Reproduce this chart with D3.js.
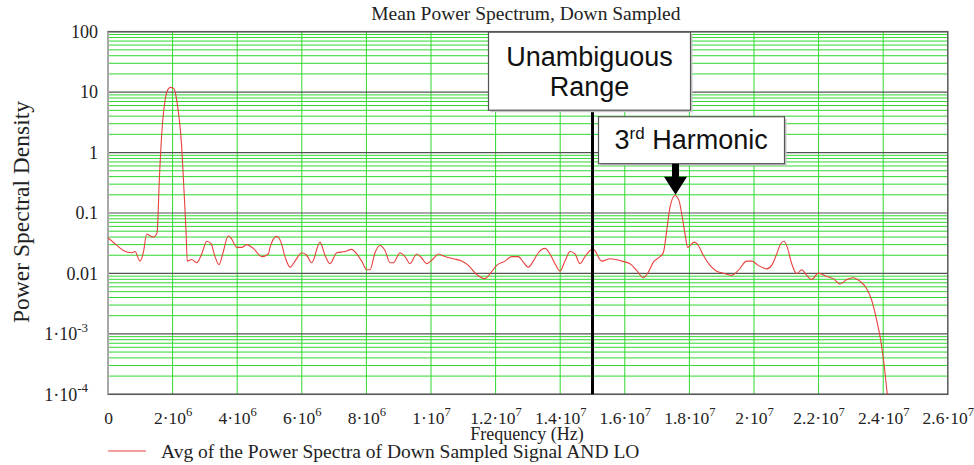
<!DOCTYPE html>
<html>
<head>
<meta charset="utf-8">
<script src="https://cdn.jsdelivr.net/npm/d3@7"></script>
<style>
body { margin: 0; background: #fff; }
#chart_root svg { display: block; }
</style>
</head>
<body>
<div id="chart_root"></div>
<script>
// spectrum: frequency in MHz, PSD (linear units)
const freqMHz = [
    0, 0.217, 0.474, 0.734, 0.836, 0.991, 1.093, 1.198, 1.300, 1.402, 1.508, 1.526,
    1.588, 1.663, 1.765, 1.867, 1.941, 2.043, 2.145, 2.282, 2.353, 2.415, 2.455,
    2.591, 2.746, 2.901, 3.056, 3.189, 3.313, 3.437, 3.551, 3.724, 3.830, 3.985,
    4.139, 4.294, 4.499, 4.759, 4.963, 5.016, 5.223, 5.356, 5.480, 5.635, 5.790,
    5.997, 6.152, 6.307, 6.564, 6.718, 6.873, 7.081, 7.338, 7.545, 7.700, 7.855,
    8.010, 8.112, 8.266, 8.421, 8.576, 8.731, 8.833, 9.040, 9.195, 9.350, 9.557,
    9.712, 9.867, 10.071, 10.226, 10.434, 10.690, 10.951, 11.155, 11.415, 11.672,
    11.827, 12.034, 12.291, 12.499, 12.703, 12.858, 13.012, 13.167, 13.322, 13.530,
    13.684, 13.839, 13.994, 14.149, 14.304, 14.458, 14.613, 14.768, 14.923, 15.025,
    15.285, 15.542, 15.904, 16.161, 16.369, 16.573, 16.728, 16.883, 17.090, 17.192,
    17.297, 17.400, 17.554, 17.678, 17.780, 17.864, 17.948, 18.019, 18.152, 18.276,
    18.430, 18.638, 18.845, 19.050, 19.310, 19.514, 19.774, 19.929, 20.133, 20.288,
    20.393, 20.548, 20.703, 20.827, 20.929, 21.031, 21.168, 21.322, 21.477, 21.632,
    21.787, 21.991, 22.251, 22.455, 22.663, 22.870, 23.075, 23.282, 23.490, 23.644,
    23.799, 23.923, 24.025, 24.127, 24.200
];
const psd = [
    0.039, 0.031, 0.024, 0.022, 0.023, 0.016, 0.022, 0.045, 0.042, 0.040, 0.045, 0.051,
    0.344, 2.0, 7.2, 11.3, 12.0, 11.3, 6.4, 1.23, 0.236, 0.051, 0.016,
    0.017, 0.015, 0.021, 0.034, 0.031, 0.019, 0.014, 0.021, 0.042, 0.037, 0.027,
    0.027, 0.030, 0.026, 0.019, 0.021, 0.027, 0.041, 0.033, 0.019, 0.0127, 0.016,
    0.022, 0.020, 0.015, 0.033, 0.020, 0.0145, 0.022, 0.023, 0.025, 0.021, 0.016,
    0.0115, 0.0115, 0.022, 0.029, 0.024, 0.015, 0.015, 0.022, 0.019, 0.0145, 0.021,
    0.018, 0.0145, 0.0175, 0.021, 0.019, 0.0175, 0.016, 0.0136, 0.0096, 0.0082,
    0.0099, 0.0136, 0.016, 0.019, 0.019, 0.0154, 0.0127, 0.016, 0.022, 0.026,
    0.021, 0.0145, 0.0109, 0.016, 0.023, 0.021, 0.0145, 0.019, 0.024, 0.025,
    0.016, 0.0175, 0.016, 0.0145, 0.0112, 0.0085, 0.0105, 0.0154, 0.019, 0.022,
    0.051, 0.125, 0.195, 0.16, 0.085, 0.045, 0.027, 0.029, 0.033, 0.029,
    0.020, 0.0136, 0.0109, 0.0101, 0.0093, 0.0112, 0.016, 0.016, 0.0136, 0.0124,
    0.0119, 0.0136, 0.021, 0.031, 0.034, 0.027, 0.0145, 0.0099, 0.0115, 0.0093,
    0.0079, 0.0101, 0.0089, 0.0082, 0.0067, 0.0079, 0.0085, 0.0074, 0.0056, 0.0036,
    0.00167, 0.00078, 0.00032, 0.0001, 0.00005
];

const xTickValues = [0, 2e6, 4e6, 6e6, 8e6, 1e7, 1.2e7, 1.4e7, 1.6e7, 1.8e7, 2e7, 2.2e7, 2.4e7, 2.6e7];
const xTickLabels = ["0", "2·10^6", "4·10^6", "6·10^6", "8·10^6", "1·10^7", "1.2·10^7",
    "1.4·10^7", "1.6·10^7", "1.8·10^7", "2·10^7", "2.2·10^7", "2.4·10^7", "2.6·10^7"];
const yTickValues = [100, 10, 1, 0.1, 0.01, 1e-3, 1e-4];
const yTickLabels = ["100", "10", "1", "0.1", "0.01", "1·10^-3", "1·10^-4"];

const unambiguousFreq = 1.5e7;
const harmonicFreq = 1.757e7;
const harmonicPeak = 0.2;

const W = 974, H = 465;
const margin = {top: 31.7, right: 26.2, bottom: 70.7, left: 108};
const width = W - margin.left - margin.right;
const height = H - margin.top - margin.bottom;
const serif = "'Liberation Serif', 'Times New Roman', serif";
const sans = "'Liberation Sans', Arial, sans-serif";

const data = freqMHz.map((f, i) => ({f: f * 1e6, v: psd[i]}));

const svg = d3.select("#chart_root")
    .append("svg")
    .attr("width", W)
    .attr("height", H)
    .style("background", "#fff");

const g = svg.append("g")
    .attr("transform", "translate(" + margin.left + "," + margin.top + ")");

const x = d3.scaleLinear().domain([0, 2.6e7]).range([0, width]);
const y = d3.scaleLog().domain([1e-4, 100]).range([height, 0]);

// writes "a·10^b" as text with a raised exponent
const writeLabel = (sel, lab, size) => {
    sel.text(null);
    const parts = lab.split("^");
    sel.append("tspan").text(parts[0]);
    if (parts.length > 1) {
        sel.append("tspan")
            .attr("font-size", size * 0.72)
            .attr("dy", -size * 0.45)
            .text(parts[1]);
    }
};

// grid
const minors = [];
for (let e = -4; e < 2; e++) {
    for (let k = 2; k <= 9; k++) minors.push(k * Math.pow(10, e));
}
g.append("g").selectAll("line")
    .data(minors)
    .enter().append("line")
    .attr("x1", 0).attr("x2", width)
    .attr("y1", d => y(d)).attr("y2", d => y(d))
    .attr("stroke", "#2fd82f")
    .attr("stroke-width", 1);
g.append("g").selectAll("line")
    .data(xTickValues.slice(1, -1))
    .enter().append("line")
    .attr("x1", d => x(d)).attr("x2", d => x(d))
    .attr("y1", 0).attr("y2", height)
    .attr("stroke", "#2fd82f")
    .attr("stroke-width", 1);
g.append("g").selectAll("line")
    .data(yTickValues)
    .enter().append("line")
    .attr("x1", 0).attr("x2", width)
    .attr("y1", d => y(d)).attr("y2", d => y(d))
    .attr("stroke", "#555")
    .attr("stroke-width", 1.2);

// frame
g.append("rect")
    .attr("width", width).attr("height", height)
    .attr("fill", "none")
    .attr("stroke", "#5a5a5a")
    .attr("stroke-width", 1.5);
g.append("line")
    .attr("x1", 0).attr("x2", 0).attr("y1", 0).attr("y2", height)
    .attr("stroke", "#a8a8a8").attr("stroke-width", 2);

// curve
svg.append("clipPath").attr("id", "plotclip")
    .append("rect").attr("width", width).attr("height", height);
g.append("path")
    .datum(data)
    .attr("clip-path", "url(#plotclip)")
    .attr("fill", "none")
    .attr("stroke", "#e8413c")
    .attr("stroke-width", 1.1)
    .attr("d", d3.line()
        .x(d => x(d.f))
        .y(d => y(d.v))
        .curve(d3.curveMonotoneX));

// axes
const xAx = g.append("g")
    .attr("transform", "translate(0," + height + ")")
    .call(d3.axisBottom(x).tickValues(xTickValues).tickSize(0).tickPadding(17));
xAx.select(".domain").remove();
xAx.attr("font-family", serif).attr("font-size", 17.5);
xAx.selectAll(".tick text").attr("fill", "#222")
    .each(function(d, i) { writeLabel(d3.select(this), xTickLabels[i], 17.5); });

const yAx = g.append("g")
    .call(d3.axisLeft(y).tickValues(yTickValues).tickSize(0).tickPadding(10));
yAx.select(".domain").remove();
yAx.attr("font-family", serif).attr("font-size", 18);
yAx.selectAll(".tick text").attr("fill", "#222")
    .each(function(d, i) {
        const lab = yTickLabels[i];
        writeLabel(d3.select(this), lab, 18);
        if (lab.includes("^")) d3.select(this).attr("x", -20);
    });

// titles
svg.append("text")
    .attr("x", margin.left + width / 2 - 2)
    .attr("y", 20)
    .attr("text-anchor", "middle")
    .attr("font-family", serif).attr("font-size", 19.5)
    .attr("fill", "#222")
    .text("Mean Power Spectrum, Down Sampled");

svg.append("text")
    .attr("x", margin.left + width / 2 - 1)
    .attr("y", 440)
    .attr("text-anchor", "middle")
    .attr("font-family", serif).attr("font-size", 18)
    .attr("fill", "#222")
    .text("Frequency (Hz)");

svg.append("text")
    .attr("transform", "translate(29,212) rotate(-90)")
    .attr("text-anchor", "middle")
    .attr("font-family", serif).attr("font-size", 23.5)
    .attr("fill", "#222")
    .text("Power Spectral Density");

// legend
svg.append("line")
    .attr("x1", 108).attr("x2", 146)
    .attr("y1", 451).attr("y2", 451)
    .attr("stroke", "#e8413c").attr("stroke-width", 1.1);
svg.append("text")
    .attr("x", 161).attr("y", 458)
    .attr("font-family", serif).attr("font-size", 19.5)
    .attr("fill", "#222")
    .text("Avg of the Power Spectra of Down Sampled Signal AND LO");

// annotations
const xu = x(unambiguousFreq);
const box1 = {x: xu - 104, y: 0.5, w: 202, h: 78};
const box2 = {x: xu + 6, y: 85, w: 186, h: 47};

g.append("line")
    .attr("x1", xu).attr("x2", xu)
    .attr("y1", box1.y + box1.h).attr("y2", height)
    .attr("stroke", "#000").attr("stroke-width", 3);

[box1, box2].forEach(b => {
    g.append("rect")
        .attr("x", b.x + 2).attr("y", b.y + 2)
        .attr("width", b.w).attr("height", b.h)
        .attr("fill", "#c8c8c8");
    g.append("rect")
        .attr("x", b.x).attr("y", b.y)
        .attr("width", b.w).attr("height", b.h)
        .attr("fill", "#fff")
        .attr("stroke", "#555").attr("stroke-width", 1.2);
});

const t1 = g.append("text")
    .attr("text-anchor", "middle")
    .attr("font-family", sans).attr("font-size", 27)
    .attr("fill", "#111");
t1.append("tspan").attr("x", box1.x + box1.w / 2).attr("y", box1.y + 34).text("Unambiguous");
t1.append("tspan").attr("x", box1.x + box1.w / 2).attr("y", box1.y + 64).text("Range");

const t2 = g.append("text")
    .attr("x", box2.x + 16).attr("y", box2.y + 32)
    .attr("font-family", sans).attr("font-size", 27)
    .attr("fill", "#111");
t2.append("tspan").text("3");
t2.append("tspan").attr("font-size", 17).attr("dy", -10).text("rd");
t2.append("tspan").attr("dy", 10).text(" Harmonic");

// arrow pointing at the harmonic peak
const ax = x(harmonicFreq), ay = y(harmonicPeak);
g.append("path")
    .attr("d", "M" + (ax - 3.5) + "," + (box2.y + box2.h) +
        " V" + (ay - 18) + " H" + (ax - 11.5) +
        " L" + ax + "," + ay +
        " L" + (ax + 11.5) + "," + (ay - 18) +
        " H" + (ax + 3.5) + " V" + (box2.y + box2.h) + " Z")
    .attr("fill", "#000");
</script>
</body>
</html>
